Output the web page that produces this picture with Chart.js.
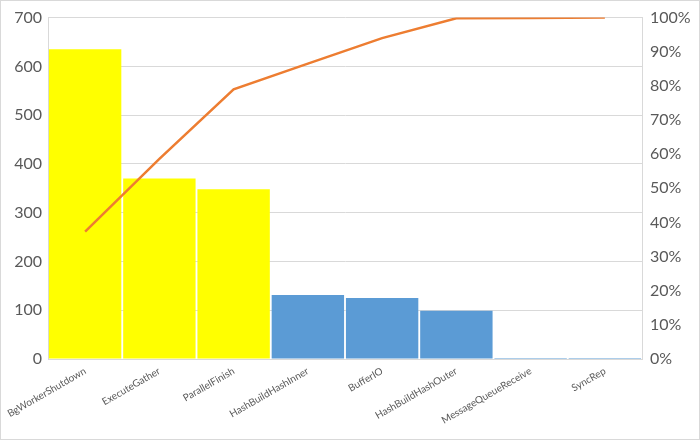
<!DOCTYPE html>
<html>
<head>
<meta charset="utf-8">
<script src="https://cdn.jsdelivr.net/npm/chart.js@4/dist/chart.umd.min.js"></script>
<style>
    html, body { margin: 0; padding: 0; background: #fff; }
    #wrap { position: relative; width: 700px; height: 440px; }
    #wrap::after {
        content: ""; position: absolute; left: 0; top: 0; right: 0; bottom: 0;
        border: 1px solid #d9d9d9; pointer-events: none;
    }
</style>
</head>
<body>
<div id="wrap"><canvas id="paretoChart" width="700" height="440"></canvas></div>
<script>
// Pareto - wait events
let waitEvents = ["BgWorkerShutdown", "ExecuteGather", "ParallelFinish", "HashBuildHashInner",
    "BufferIO", "HashBuildHashOuter", "MessageQueueReceive", "SyncRep"];
let waitCounts = [635, 370, 348, 131, 125, 99, 2, 1];
let cumulativePct = [37.3, 58.6, 79.0, 86.5, 94.0, 99.8, 99.9, 100];
let countTicks = [0, 100, 200, 300, 400, 500, 600, 700];
let pctTicks = [0, 10, 20, 30, 40, 50, 60, 70, 80, 90, 100];

let barColors = waitCounts.map((v, i) => i < 3 ? '#FFFF00' : '#5B9BD5');
let textGray = '#595959';
let gridGray = '#d9d9d9';
let fontName = 'Lato, "Open Sans", sans-serif';

let ctx = document.getElementById('paretoChart').getContext('2d');

let paretoChart = new Chart(ctx, {
    data: {
        labels: waitEvents,
        datasets: [{
            type: 'line',
            label: 'Cumulative',
            data: cumulativePct,
            yAxisID: 'yPct',
            borderColor: '#ED7D31',
            borderWidth: 2.5,
            pointRadius: 0,
            tension: 0,
            order: 0
        }, {
            type: 'bar',
            label: 'Count',
            data: waitCounts,
            yAxisID: 'y',
            backgroundColor: barColors,
            borderWidth: 0,
            minBarLength: 1,
            categoryPercentage: 1.0,
            barPercentage: 0.975,
            order: 1
        }]
    },
    options: {
        responsive: false,
        animation: false,
        layout: { padding: { top: 16, right: 0, bottom: 0, left: 0 } },
        plugins: {
            legend: { display: false },
            tooltip: { enabled: false }
        },
        scales: {
            x: {
                grid: { display: false, drawTicks: false },
                border: { color: gridGray },
                ticks: {
                    color: textGray,
                    font: { family: fontName, size: 10 },
                    minRotation: 30,
                    maxRotation: 30,
                    padding: 6,
                    autoSkip: false
                },
                afterFit: function(scale) {
                    // rotated labels may hang past the plot edge, like the original
                    scale.height = 81;
                    scale.paddingLeft = 0;
                    scale.paddingRight = 0;
                }
            },
            y: {
                position: 'left',
                min: 0,
                max: 700,
                afterBuildTicks: function(scale) {
                    scale.ticks = countTicks.map(v => ({ value: v }));
                },
                grid: { color: gridGray, drawTicks: false },
                border: { color: gridGray },
                ticks: {
                    color: textGray,
                    font: { family: fontName, size: 16 },
                    padding: 6
                },
                afterFit: function(scale) { scale.width = 48; }
            },
            yPct: {
                position: 'right',
                min: 0,
                max: 100,
                afterBuildTicks: function(scale) {
                    scale.ticks = pctTicks.map(v => ({ value: v }));
                },
                grid: { display: false, drawTicks: false },
                border: { color: gridGray },
                ticks: {
                    color: textGray,
                    font: { family: fontName, size: 16 },
                    padding: 8,
                    callback: function(v) { return v + '%'; }
                },
                afterFit: function(scale) { scale.width = 58; }
            }
        }
    }
});
</script>
</body>
</html>
